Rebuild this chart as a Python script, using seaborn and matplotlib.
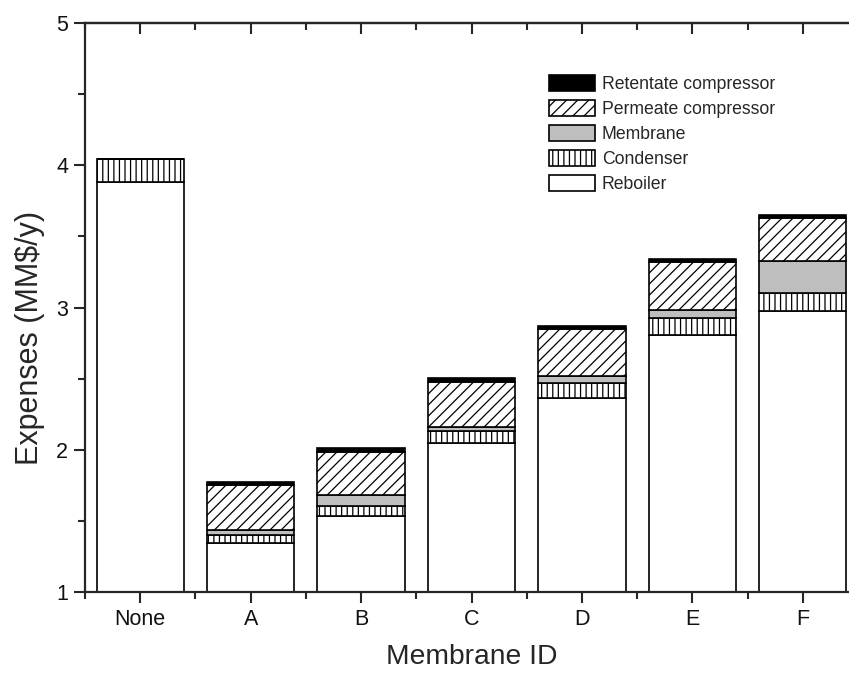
import matplotlib
matplotlib.use("Agg")
import matplotlib.pyplot as plt
from matplotlib.patches import Patch
from matplotlib.ticker import MultipleLocator
import seaborn as sns
import pandas as pd
import numpy as np

categories = ["None", "A", "B", "C", "D", "E", "F"]
reboiler = [3.885, 1.342, 1.537, 2.045, 2.366, 2.807, 2.978]
condenser = [0.157, 0.059, 0.068, 0.087, 0.101, 0.117, 0.126]
membrane = [0.0, 0.035, 0.075, 0.030, 0.054, 0.058, 0.225]
permeate = [0.0, 0.316, 0.306, 0.316, 0.330, 0.336, 0.300]
retentate = [0.0, 0.021, 0.024, 0.024, 0.020, 0.021, 0.020]

series_names = ["Reboiler", "Condenser", "Membrane", "Permeate compressor", "Retentate compressor"]
series_values = [reboiler, condenser, membrane, permeate, retentate]
face_colors = ["white", "white", "#bebebe", "white", "black"]
hatches = [None, "|||", None, "///", None]

sns.set_style("ticks")
plt.rcParams["font.family"] = ["Liberation Sans", "DejaVu Sans"]
plt.rcParams["hatch.linewidth"] = 0.9
plt.rcParams["hatch.color"] = "black"

fig = plt.figure(figsize=(8.49, 6.78), dpi=100)
ax = fig.add_axes([85 / 849, (678 - 592) / 678, (858 - 85) / 849, (592 - 23) / 678])

bottoms = np.zeros(len(categories))
for name, vals, fc, ht in zip(series_names, series_values, face_colors, hatches):
    df = pd.DataFrame({"cat": categories, "val": vals})
    kws = dict(bottom=bottoms.copy(), edgecolor="black", linewidth=1.2)
    if ht:
        kws["hatch"] = ht
    sns.barplot(data=df, x="cat", y="val", order=categories, color=fc,
                saturation=1, width=0.79, ax=ax, errorbar=None, **kws)
    bottoms = bottoms + np.array(vals)

ax.set_ylim(1, 5)
ax.set_xlim(-0.5, 6.5)
ax.yaxis.set_major_locator(MultipleLocator(1))
ax.yaxis.set_minor_locator(MultipleLocator(0.5))
ax.set_xticks(range(len(categories)))
ax.set_xticklabels(categories)
ax.set_xticks(np.arange(-0.5, 7.0, 1.0), minor=True)

for s in ax.spines.values():
    s.set_linewidth(1.6)
    s.set_visible(True)

ax.tick_params(axis="both", which="major", direction="out", length=8, width=1.5,
               labelsize=15.5, top=False, right=False, labelcolor="#111111")
ax.tick_params(axis="both", which="minor", direction="out", length=5, width=1.5)
ax.tick_params(axis="x", which="major", pad=4)
ax.tick_params(axis="y", which="major", pad=4)

# mirrored inward ticks on top
secx = ax.secondary_xaxis("top")
secx.set_xticks(range(len(categories)))
secx.set_xticks(np.arange(-0.5, 7.0, 1.0), minor=True)
secx.tick_params(axis="x", which="major", direction="in", length=8, width=1.5, labeltop=False)
secx.tick_params(axis="x", which="minor", direction="in", length=5, width=1.5)
secx.spines["top"].set_linewidth(1.6)

ax.set_xlabel("Membrane ID", fontsize=20.3, labelpad=10)
ax.set_ylabel("Expenses (MM$/y)", fontsize=22)
ax.yaxis.set_label_coords((45 - 85) / 773, (592 - 338) / 569)

handles = []
for name, fc, ht in zip(series_names, face_colors, hatches):
    handles.append(Patch(facecolor=fc, edgecolor="black", hatch=ht, linewidth=1.2, label=name))
handles = handles[::-1]
labels = series_names[::-1]
fig.legend(handles, labels, loc="upper left", bbox_to_anchor=(549 / 849, 1 - 75 / 678),
           frameon=False, fontsize=12.7, handlelength=2.6, handleheight=1.0,
           labelspacing=0.4, handletextpad=0.4, borderpad=0, borderaxespad=0)

fig.savefig("out.png", dpi=100)
